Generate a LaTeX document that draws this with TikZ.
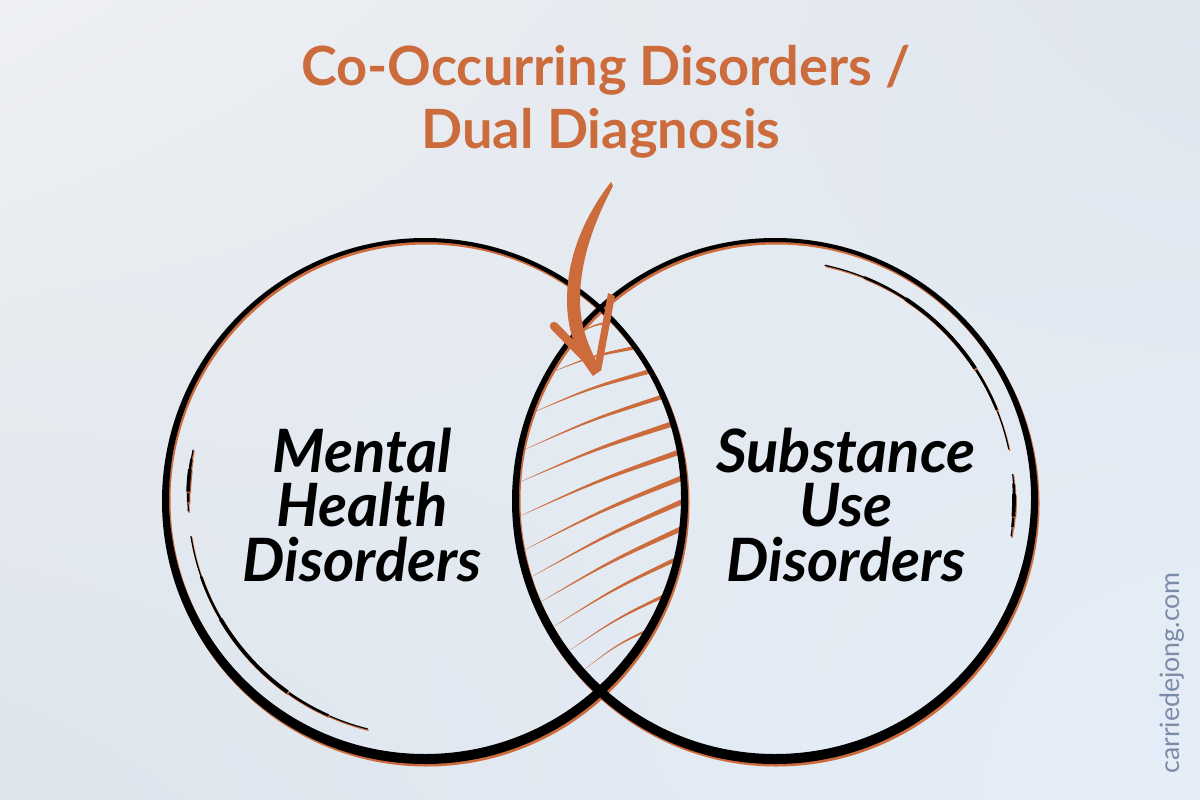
\documentclass[tikz,border=0pt]{standalone}
\usepackage{fontspec}
\setmainfont{Lato}
\usetikzlibrary{positioning,shadings}
\definecolor{rust}{HTML}{CC6C3C}
\definecolor{inkblue}{HTML}{7B8CA8}
\definecolor{bgul}{HTML}{EEF0F3}
\definecolor{bgur}{HTML}{E0E6EE}
\definecolor{bgll}{HTML}{DDE4EC}
\definecolor{bglr}{HTML}{E5EEF8}

\begin{document}
\begin{tikzpicture}[x=0.01cm, y=-0.01cm,
    ring/.style={fill=black, even odd rule},
    ringshadow/.style={fill=rust, even odd rule},
    hatch/.style={fill=rust},
    venntext/.style={font=\fontsize{17}{15.6}\selectfont\bfseries\itshape, align=center, inner sep=0pt},
    titletext/.style={font=\fontsize{15.4}{16}\selectfont\bfseries, text=rust, inner sep=0pt}]

    % Background
    \shade[upper left=bgul, upper right=bgur, lower left=bgll, lower right=bglr]
        (0,0) rectangle (1200,800);
    \useasboundingbox (0,0) rectangle (1200,800);

    % Hatching in the overlap
    \begin{scope}
        \clip (425,499) circle[radius=258];
        \clip (775,499) circle[radius=258];
        \foreach \yl/\yr/\w in {338/320/3, 374/346/4, 414/369/5, 452/394/5, 484/421/6, 518/449/6,
                                552/474/6, 579/497/6, 604/524/6, 629/554/5, 653/590/4, 672/624/3} {
            \pgfmathsetmacro\xl{775-100*sqrt(6.76-((\yl-499)/100)^2)}
            \pgfmathsetmacro\xr{425+100*sqrt(6.76-((\yr-499)/100)^2)+8}
            \pgfmathsetmacro\xm{(\xl+\xr)/2-3}
            \pgfmathsetmacro\ym{(\yl+\yr)/2-5}
            \fill[hatch] (\xl,\yl) .. controls (\xm,\ym) .. (\xr,\yr-\w/2)
                -- (\xr,\yr+\w/2) .. controls (\xm,\ym+\w/2) .. cycle;
        }
    \end{scope}

    % Circles
    \foreach \cx in {425,775} {
        \fill[ringshadow] (\cx+1.5,503.5) circle[radius=263] (\cx+1.5,500.5) circle[radius=256];
    }
    \foreach \cx in {425,775} {
        \fill[ring] (\cx,501) circle[radius=263] (\cx,498) circle[radius=256];
    }

    % Sketchy inner strokes
    \foreach \cx/\r/\a/\b in {425/237/192/177, 425/237/171/104, 775/239/282/348, 775/239/354/369} {
        \foreach \f/\lw in {0/0.35pt, 0.15/0.7pt, 0.32/1.05pt} {
            \pgfmathsetmacro\sa{\a+\f*(\b-\a)}
            \pgfmathsetmacro\ea{\b-\f*(\b-\a)}
            \draw[rust, line width=\lw] (\cx+1,500.5) ++(\sa:\r) arc[start angle=\sa, end angle=\ea, radius=\r];
            \draw[black, line width=\lw] (\cx,499) ++(\sa:\r) arc[start angle=\sa, end angle=\ea, radius=\r];
        }
    }

    % Brush arrow
    \fill[rust] (611,182) .. controls (586,214) and (567,255) .. (567,300)
        .. controls (567,335) and (579,358) .. (593,376) -- (601,370)
        .. controls (590,350) and (580,328) .. (580,300)
        .. controls (580,262) and (593,224) .. (613,186) -- cycle;
    \draw[rust, line width=2.4pt, line cap=round] (554,326) -- (596,369);
    \fill[rust] (608,293) -- (615,296) -- (601,371) -- (594,369) -- cycle;

    % Labels
    \node[titletext, anchor=base] (titleA) at (606,85) {Co-Occurring Disorders /};
    \node[titletext, anchor=base] (titleB) at (601,148) {Dual Diagnosis};
    \node[venntext] (mental) at (362,505) {Mental\\Health\\Disorders};
    \node[venntext] (substance) at (846,505) {Substance\\Use\\Disorders};
    \node[font=\fontsize{7.6}{8}\selectfont, text=inkblue, rotate=90, inner sep=0pt] (site) at (1172,673) {carriedejong.com};
\end{tikzpicture}
\end{document}
